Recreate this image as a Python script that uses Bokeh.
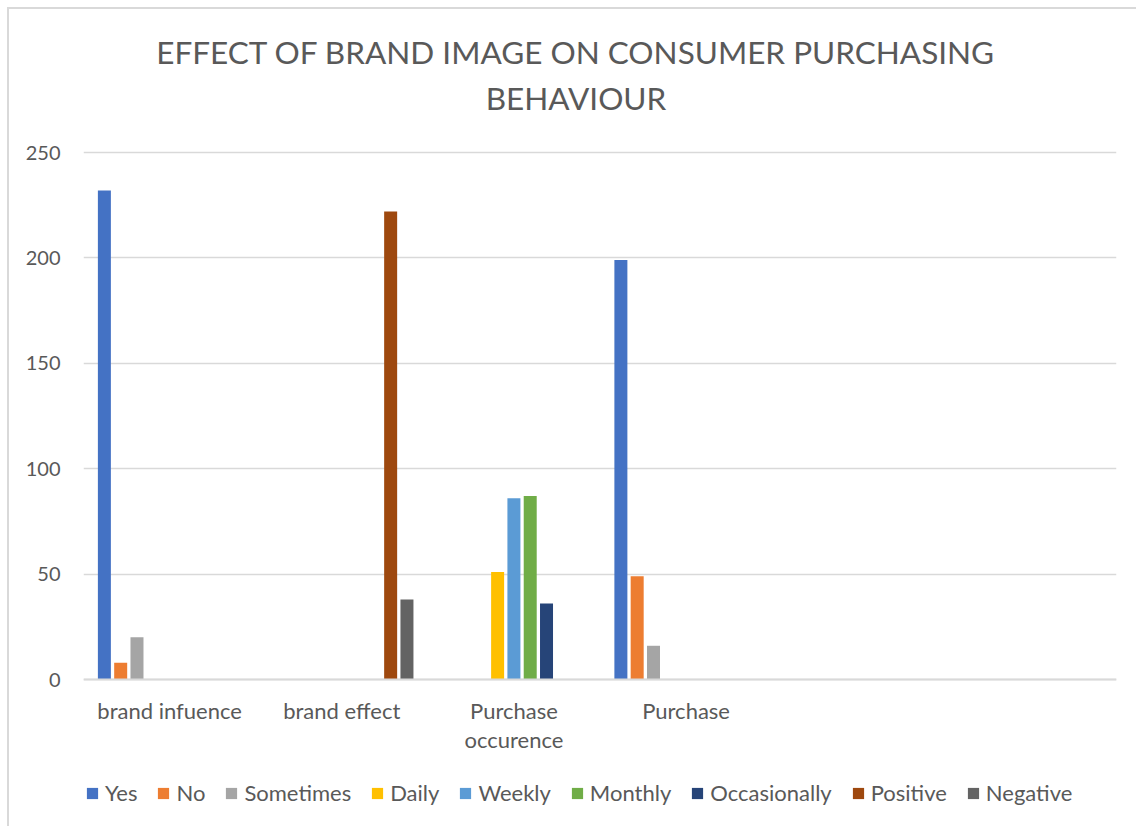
from bokeh.plotting import figure
from bokeh.models import ColumnDataSource, FixedTicker, Legend, LegendItem, Label, Range1d, Span
from bokeh.transform import dodge
from bokeh.core.properties import value
from bokeh.embed import file_html
from bokeh.resources import INLINE
import numpy as np

categories = ["brand infuence", "brand effect", "Purchase\noccurence", "Purchase", "", ""]
series = ["Yes", "No", "Sometimes", "Daily", "Weekly", "Monthly", "Occasionally", "Positive", "Negative"]
colors = ["#4472C4", "#ED7D31", "#A5A5A5", "#FFC000", "#5B9BD5", "#70AD47", "#264478", "#9E480E", "#636363"]

yes = [232, None, None, 199, None, None]
no = [8, None, None, 49, None, None]
sometimes = [20, None, None, 16, None, None]
daily = [None, None, 51, None, None, None]
weekly = [None, None, 86, None, None, None]
monthly = [None, None, 87, None, None, None]
occasionally = [None, None, 36, None, None, None]
positive = [None, 222, None, None, None, None]
negative = [None, 38, None, None, None, None]

values = [yes, no, sometimes, daily, weekly, monthly, occasionally, positive, negative]
yticks = [0, 50, 100, 150, 200, 250]
title_lines = ["EFFECT OF BRAND IMAGE ON CONSUMER PURCHASING", "BEHAVIOUR"]

FONT = "Lato"
TXT = "#595959"
GRID = "#D9D9D9"

# layout geometry (pixels)
PLOT_W, PLOT_H = 1033, 527      # value-area size
TOP_PX, BOT_PX = 143, 147       # space kept above 250 and below 0 inside the frame
YMAX = 250
px_y = PLOT_H / YMAX
px_x = PLOT_W / len(categories)

centers = [i + 0.5 for i in range(len(categories))]
data = {"x": centers, "label": categories, "zero": [0] * len(categories)}
for name, vals in zip(series, values):
    data[name] = [np.nan if v is None else v for v in vals]
src = ColumnDataSource(data)

p = figure(frame_width=PLOT_W, frame_height=PLOT_H + TOP_PX + BOT_PX,
           x_range=Range1d(0, len(categories)),
           y_range=Range1d(-BOT_PX / px_y, YMAX + TOP_PX / px_y),
           output_backend="svg", toolbar_location=None, x_axis_location=None,
           min_border_left=74, min_border_right=20, min_border_top=0, min_border_bottom=0)
p.margin = (7, 0, 0, 7)
p.styles = {"border-left": "2px solid #D9D9D9", "border-top": "2px solid #D9D9D9"}
p.outline_line_color = None

p.xgrid.grid_line_color = None
p.ygrid.grid_line_color = GRID
p.ygrid.grid_line_width = 1.5
p.ygrid.ticker = FixedTicker(ticks=yticks)
p.add_layout(Span(location=0, dimension="width", line_color=GRID, line_width=2))

pitch = 16.3 / px_x
bw = 13.0 / px_x
items = []
for i, (name, col) in enumerate(zip(series, colors)):
    r = p.vbar(x=dodge("x", (i - 4) * pitch, range=p.x_range), top=name, width=bw,
               source=src, fill_color=col, line_color=None)
    items.append(LegendItem(label=name, renderers=[r]))

# category labels under the zero line
p.text(x="x", y="zero", text="label", source=src, y_offset=17,
       text_align="center", text_baseline="top", text_font=value(FONT),
       text_font_size="22px", text_color=TXT, text_line_height=1.08)

# chart title, two centred lines
title_cx = len(categories) / 2 - 24 / px_x
for line, dy in zip(title_lines, [628, 582]):
    p.add_layout(Label(x=title_cx, y=dy / px_y, text=line, text_align="center",
                       text_baseline="middle", text_font=FONT, text_font_size="31.5px",
                       text_color=TXT))

p.yaxis.ticker = FixedTicker(ticks=yticks)
p.yaxis.axis_line_color = None
p.yaxis.major_tick_line_color = None
p.yaxis.minor_tick_line_color = None
p.yaxis.major_label_standoff = 17
p.yaxis.major_label_text_font = FONT
p.yaxis.major_label_text_font_size = "20px"
p.yaxis.major_label_text_color = TXT

legend = Legend(items=items, orientation="horizontal", location=(2, 20),
                border_line_color=None, background_fill_alpha=0,
                glyph_width=14, glyph_height=14, label_standoff=6, spacing=19,
                padding=0, margin=0,
                label_text_font=FONT, label_text_font_size="22px", label_text_color=TXT)
p.add_layout(legend, "center")

open("out.html", "w").write(file_html(p, INLINE))
